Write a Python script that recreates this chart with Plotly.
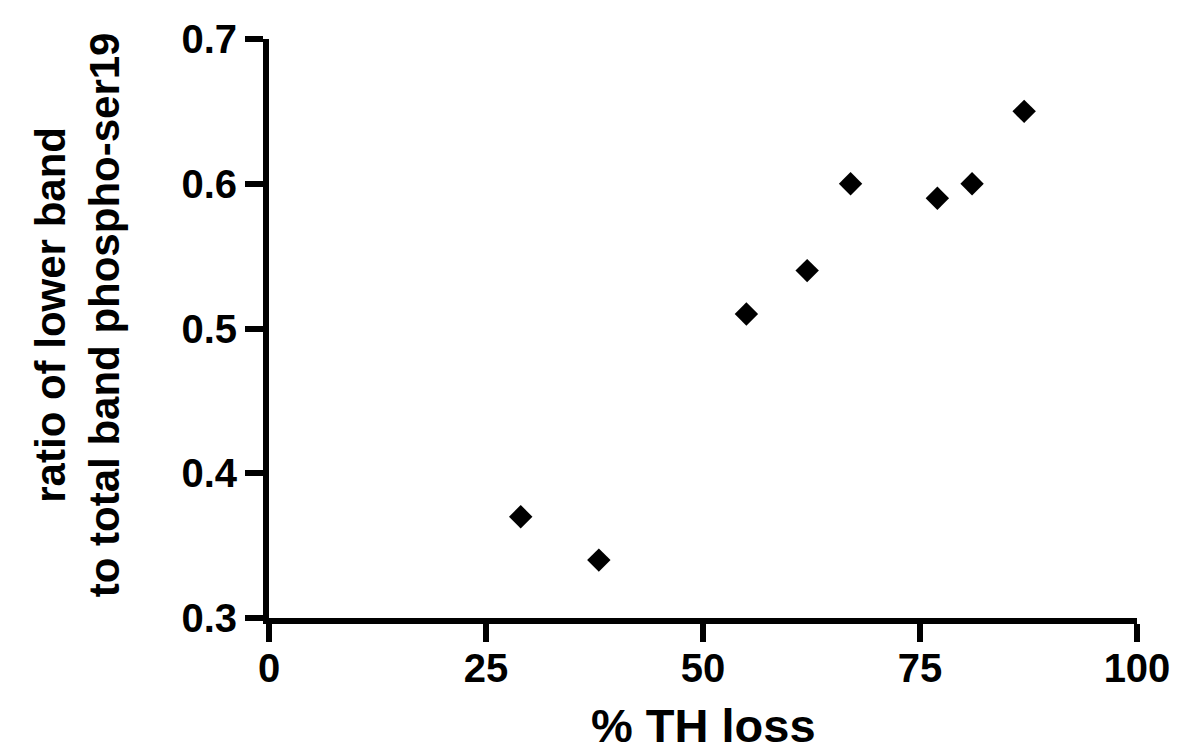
import plotly.graph_objects as go

th_loss = [29, 38, 55, 62, 67, 77, 81, 87]
ratio = [0.37, 0.34, 0.51, 0.54, 0.60, 0.59, 0.60, 0.65]
x_ticks = [0, 25, 50, 75, 100]
y_ticks = [0.3, 0.4, 0.5, 0.6, 0.7]
y_tick_text = ["0.3", "0.4", "0.5", "0.6", "0.7"]

FONT = "Liberation Sans, Arial, sans-serif"

fig = go.Figure()
fig.add_trace(go.Scatter(
    x=th_loss, y=ratio, mode="markers",
    marker=dict(symbol="diamond", size=18, color="black"),
    cliponaxis=False,
))

axis_common = dict(
    showline=True, linewidth=6, linecolor="black",
    ticks="outside", ticklen=18, tickwidth=6, tickcolor="black",
    showgrid=False, zeroline=False,
    tickfont=dict(family=FONT, size=40, color="black", weight="bold"),
)

fig.update_layout(
    width=1188, height=754,
    margin=dict(l=269, r=51, t=39, b=136),
    plot_bgcolor="white", paper_bgcolor="white",
    showlegend=False,
    xaxis=dict(range=[0, 100], tickvals=x_ticks, ticklabelstandoff=-8, **axis_common),
    yaxis=dict(range=[0.3, 0.7], tickvals=y_ticks, ticktext=y_tick_text, **axis_common),
    annotations=[
        dict(text="% TH loss", xref="paper", yref="paper", x=0.5, y=-0.186,
             showarrow=False, xanchor="center", yanchor="middle",
             font=dict(family=FONT, size=47, color="black", weight="bold")),
        dict(text="ratio of lower band<br>to total band phospho-ser19",
             xref="paper", yref="paper", x=-0.22, y=0.523, textangle=-90,
             showarrow=False, xanchor="center", yanchor="middle",
             font=dict(family=FONT, size=42, color="black", weight="bold")),
    ],
)

fig.write_html("out.html")
